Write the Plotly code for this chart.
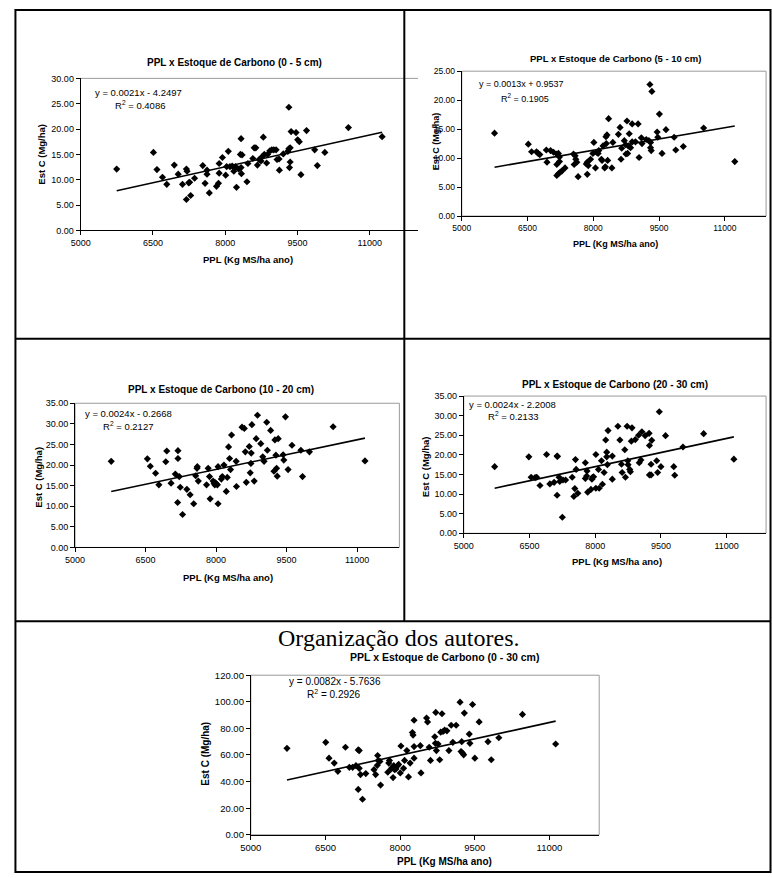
import numpy as np
import plotly.graph_objects as go

W, H = 772, 878

# ---------------- data ----------------
ppl_0_5 = [5747, 6510, 6583, 6698, 6787, 6943, 7024, 7113, 7194, 7208, 7242, 7262, 7194, 7283, 7364,
           7534, 7582, 7622, 7622, 7670, 7819, 7860, 7874, 7874, 7942, 8010, 8030, 8064, 8098, 8145,
           8179, 8213, 8234, 8281, 8315, 8329, 8336, 8329, 8350, 8451, 8471, 8573, 8601, 8635, 8668,
           8702, 8743, 8770, 8791, 8811, 8859, 8879, 8927, 8967, 9008, 9056, 9076, 9117, 9124, 9205,
           9300, 9321, 9321, 9348, 9348, 9334, 9368, 9470, 9504, 9538, 9572, 9688, 9857, 9912, 10068,
           10557, 11257]
est_0_5 = [12.1, 15.4, 12.0, 10.5, 9.1, 12.9, 11.1, 9.1, 12.1, 11.7, 9.4, 9.5, 6.1, 6.9, 10.3,
           12.8, 9.3, 11.1, 11.9, 7.4, 8.7, 9.3, 11.3, 13.2, 14.4, 10.9, 12.6, 15.6, 12.6, 12.7,
           11.7, 12.6, 8.5, 12.1, 15.0, 18.1, 11.2, 12.4, 14.9, 9.6, 13.2, 14.2, 16.3, 16.3, 12.9,
           14.0, 13.7, 14.6, 18.4, 15.0, 13.3, 15.0, 15.7, 15.9, 15.9, 15.9, 14.0, 14.1, 11.9, 15.1,
           15.6, 16.1, 24.3, 16.3, 13.5, 12.4, 19.5, 19.3, 17.9, 17.5, 11.0, 19.7, 15.9, 12.8, 15.4,
           20.3, 18.5]

ppl_5_10 = [5747, 6517, 6592, 6704, 6741, 6779, 6928, 6943, 7025, 7092, 7167, 7204, 7227, 7167, 7227,
            7167, 7204, 7249, 7287, 7354, 7548, 7585, 7563, 7600, 7623, 7653, 7840, 7862, 7862, 7885,
            7937, 7990, 8012, 8049, 8072, 8109, 8124, 8184, 8199, 8221, 8259, 8274, 8296, 8288, 8311,
            8326, 8348, 8423, 8445, 8572, 8610, 8632, 8647, 8707, 8737, 8744, 8767, 8782, 8797, 8819,
            8849, 8886, 8886, 8961, 9021, 9043, 9095, 9110, 9207, 9267, 9290, 9305, 9305, 9320, 9335,
            9455, 9470, 9507, 9567, 9657, 9843, 9880, 10052, 10516, 11226]
est_5_10 = [14.3, 12.4, 11.1, 11.1, 10.8, 10.6, 11.4, 9.3, 11.3, 11.0, 10.7, 10.8, 10.2, 8.9, 9.4,
            7.0, 7.3, 7.6, 7.8, 8.3, 10.7, 10.4, 8.9, 9.8, 9.3, 6.8, 9.0, 9.3, 7.2, 8.7,
            9.8, 10.8, 12.7, 8.3, 11.0, 10.8, 11.3, 9.8, 9.6, 12.1, 8.3, 8.5, 12.5, 13.7, 14.0,
            9.6, 16.8, 8.3, 12.7, 14.1, 15.3, 9.8, 11.7, 13.0, 12.3, 10.7, 16.4, 10.8, 12.1, 14.2,
            11.8, 15.9, 12.8, 12.8, 15.9, 10.1, 13.5, 12.5, 13.2, 13.0, 22.7, 12.7, 11.8, 11.3, 21.5,
            14.5, 13.6, 17.6, 10.8, 14.9, 13.6, 11.4, 12.0, 15.2, 9.4]

ppl_10_20 = [5769, 6538, 6601, 6713, 6783, 6930, 6951, 7042, 7133, 7189, 7189, 7182, 7217, 7238, 7287,
             7378, 7448, 7524, 7566, 7594, 7601, 7622, 7797, 7832, 7860, 7874, 7937, 7958, 7972, 7986,
             8007, 8028, 8042, 8042, 8112, 8133, 8168, 8217, 8238, 8266, 8287, 8308, 8329, 8427, 8434,
             8552, 8601, 8622, 8643, 8706, 8727, 8741, 8748, 8762, 8811, 8853, 8881, 8951, 8993, 9021,
             9077, 9091, 9161, 9231, 9252, 9273, 9287, 9301, 9322, 9427, 9441, 9476, 9532, 9615, 9804,
             9839, 9986, 10490, 11168]
est_10_20 = [20.9, 21.5, 19.7, 18.0, 15.2, 20.8, 23.4, 15.6, 17.8, 23.5, 21.6, 10.9, 17.2, 14.6, 8.0,
             14.1, 12.8, 10.6, 17.4, 19.2, 19.6, 16.1, 15.2, 19.2, 17.2, 11.8, 16.1, 15.6, 15.2, 15.7,
             15.4, 15.2, 19.6, 10.6, 16.6, 17.2, 20.0, 13.6, 17.0, 24.4, 21.6, 18.9, 27.3, 20.9, 14.8,
             29.2, 28.9, 23.2, 15.8, 24.5, 18.1, 20.4, 22.9, 29.8, 16.1, 26.4, 32.1, 25.2, 22.0, 20.9,
             30.4, 23.6, 28.4, 18.5, 26.1, 22.4, 19.2, 17.3, 26.4, 22.5, 21.2, 31.7, 18.9, 24.8, 23.6,
             17.2, 23.2, 29.3, 21.0]

ppl_20_30 = [5705, 6485, 6538, 6628, 6665, 6740, 6890, 6965, 7063, 7130, 7138, 7130, 7175, 7190, 7250,
             7265, 7325, 7475, 7513, 7535, 7550, 7565, 7603, 7775, 7775, 7805, 7813, 7828, 7903, 7925,
             7940, 7963, 8015, 8015, 8075, 8090, 8143, 8165, 8203, 8240, 8263, 8263, 8278, 8293, 8390,
             8390, 8518, 8563, 8600, 8615, 8675, 8690, 8728, 8743, 8750, 8788, 8803, 8825, 8840, 8915,
             8990, 9005, 9043, 9065, 9140, 9230, 9238, 9238, 9275, 9275, 9290, 9403, 9425, 9463, 9500,
             9605, 9793, 9815, 10003, 10475, 11165]
est_20_30 = [17.0, 19.5, 14.3, 14.2, 14.3, 12.2, 20.1, 12.6, 13.0, 19.7, 19.6, 9.7, 14.3, 13.2, 4.1,
             13.6, 13.6, 14.3, 9.4, 11.4, 18.8, 16.3, 10.2, 18.0, 14.0, 14.6, 15.9, 10.5, 11.2, 13.8,
             14.3, 14.4, 20.1, 11.5, 16.3, 11.5, 18.5, 12.5, 15.5, 23.8, 19.5, 20.7, 17.5, 26.2, 13.8,
             19.7, 27.3, 23.8, 17.6, 15.5, 21.3, 14.3, 27.3, 18.5, 17.5, 16.3, 15.7, 23.5, 26.9, 23.9,
             25.0, 18.0, 18.7, 25.9, 24.9, 25.5, 22.4, 14.9, 14.9, 17.6, 23.7, 18.5, 15.5, 31.0, 17.0,
             24.9, 17.0, 14.8, 22.0, 25.4, 18.9]

ppl_0_30 = [5726, 6505, 6571, 6676, 6749, 6901, 6980, 7046, 7112, 7158, 7178, 7158, 7178, 7204, 7244,
            7310, 7475, 7508, 7548, 7561, 7541, 7594, 7607, 7752, 7772, 7785, 7818, 7838, 7858, 7871,
            7891, 7917, 7950, 7970, 8003, 8016, 8069, 8089, 8135, 8168, 8201, 8247, 8260, 8280, 8280,
            8280, 8406, 8419, 8531, 8551, 8584, 8610, 8696, 8709, 8716, 8729, 8762, 8795, 8815, 8841,
            8861, 8894, 8940, 8980, 9026, 9059, 9125, 9204, 9224, 9237, 9257, 9277, 9290, 9389, 9402,
            9455, 9501, 9587, 9765, 9831, 9983, 10458, 11125]
est_0_30 = [65.0, 69.5, 57.6, 53.9, 47.7, 65.8, 50.7, 50.7, 52.0, 63.8, 63.3, 34.1, 50.0, 45.3, 26.7,
            46.0, 49.0, 45.3, 59.6, 55.9, 52.2, 55.2, 37.4, 47.0, 53.9, 55.9, 49.5, 50.5, 43.0, 52.0,
            49.0, 49.5, 52.0, 52.9, 46.5, 66.8, 50.0, 55.9, 63.3, 43.5, 53.9, 76.9, 75.0, 66.3, 86.1,
            57.6, 67.0, 46.5, 87.8, 84.9, 65.8, 55.9, 73.7, 68.8, 92.0, 63.3, 68.3, 56.4, 77.2, 91.0,
            77.7, 78.7, 78.2, 63.3, 82.4, 69.5, 82.4, 99.7, 62.6, 70.0, 61.4, 60.1, 91.5, 75.7, 68.8,
            98.0, 57.6, 84.9, 70.0, 56.4, 73.0, 90.5, 68.3]

depth_labels = ["0 - 5 cm", "5 - 10 cm", "10 - 20 cm", "20 - 30 cm", "0 - 30 cm"]
slopes = [0.0021, 0.0013, 0.0024, 0.0024, 0.0082]
intercepts = [-4.2497, 0.9537, -0.2668, -2.2008, -5.7636]
equation_texts = ["y = 0.0021x - 4.2497", "y = 0.0013x + 0.9537", "y = 0.0024x - 0.2668",
                  "y = 0.0024x - 2.2008", "y = 0.0082x - 5.7636"]
r2_texts = ["0.4086", "0.1905", "0.2127", "0.2133", "0.2926"]
y_max = [30, 25, 35, 35, 120]
y_step = [5, 5, 5, 5, 20]
x_ticks = [5000, 6500, 8000, 9500, 11000]
caption = "Organização dos autores."
x_title = "PPL (Kg MS/ha ano)"
y_title = "Est C (Mg/ha)"

xs_all = [ppl_0_5, ppl_5_10, ppl_10_20, ppl_20_30, ppl_0_30]
ys_all = [est_0_5, est_5_10, est_10_20, est_20_30, est_0_30]

# ---------------- layout geometry (pixels) ----------------
PANELS = [
    dict(box=(70.7, 412.8, 73.3, 227.3), xend=12000, border="top",
         title=(227, 57), ytitle=(31, 150), xtitle=(240, 257), eq=(83, 88), r2=(103, 100),
         fs=9, tfs=10),
    dict(box=(457.3, 766, 66, 212.7), xend=11940, border="box",
         title=(613, 53), ytitle=(431, 137), xtitle=(613, 241), eq=(473, 79), r2=(495, 93),
         fs=8.5, tfs=9.5),
    dict(box=(65, 394, 402.3, 548.3), xend=11900, border="box",
         title=(213, 388), ytitle=(27, 477), xtitle=(220, 579), eq=(73, 413), r2=(91, 425),
         fs=9, tfs=10),
    dict(box=(459.3, 766, 395, 534), xend=11900, border="box",
         title=(613, 383), ytitle=(420, 467), xtitle=(615, 563), eq=(463, 404), r2=(482, 415),
         fs=9, tfs=10),
    dict(box=(243.3, 596.7, 677.7, 839.3), xend=12000, border="box",
         title=(440, 659), ytitle=(197, 757), xtitle=(440, 866), eq=(280, 684), r2=(298, 697),
         fs=9.5, tfs=10.5),
]

FONT = "Liberation Sans, Arial, sans-serif"


def fx(px):
    return px / W


def fy(py):
    return 1 - py / H


fig = go.Figure()
annotations = []
shapes = []
layout_axes = {}

for i, (p, xs, ys) in enumerate(zip(PANELS, xs_all, ys_all)):
    n = i + 1
    xa = "x" if n == 1 else f"x{n}"
    ya = "y" if n == 1 else f"y{n}"
    xkey = "xaxis" if n == 1 else f"xaxis{n}"
    ykey = "yaxis" if n == 1 else f"yaxis{n}"
    l, r, t, b = p["box"]

    fig.add_trace(go.Scatter(x=xs, y=ys, mode="markers", xaxis=xa, yaxis=ya,
                             marker=dict(symbol="diamond", size=5.5, color="black",
                                         line=dict(width=0)),
                             showlegend=False, hoverinfo="skip"))
    xarr = np.array(xs, dtype=float)
    tx = np.array([xarr.min(), xarr.max()])
    ty = slopes[i] * tx + intercepts[i]
    fig.add_trace(go.Scatter(x=tx, y=ty, mode="lines", xaxis=xa, yaxis=ya,
                             line=dict(color="black", width=1.6),
                             showlegend=False, hoverinfo="skip"))

    tickfont = dict(family=FONT, size=p["fs"], color="black")
    layout_axes[xkey] = dict(domain=[fx(l), fx(r)], anchor=ya, range=[5000, p["xend"]],
                             tickmode="array", tickvals=x_ticks, ticktext=[str(v) for v in x_ticks],
                             ticks="outside", ticklen=4, tickcolor="black", tickwidth=1,
                             showline=True, linecolor="black", linewidth=1,
                             showgrid=False, zeroline=False, tickfont=tickfont, fixedrange=True)
    layout_axes[ykey] = dict(domain=[fy(b), fy(t)], anchor=xa, range=[0, y_max[i]],
                             tick0=0, dtick=y_step[i], tickformat=".2f",
                             ticks="outside", ticklen=4, tickcolor="black", tickwidth=1,
                             showline=True, linecolor="black", linewidth=1,
                             showgrid=False, zeroline=False, tickfont=tickfont, fixedrange=True)

    if p["border"] == "box":
        shapes.append(dict(type="rect", xref="paper", yref="paper",
                           x0=fx(l), x1=fx(r), y0=fy(b), y1=fy(t),
                           line=dict(color="#9a9a9a", width=1), layer="below"))
    else:
        shapes.append(dict(type="line", xref="paper", yref="paper",
                           x0=fx(l), x1=fx(r), y0=fy(t), y1=fy(t),
                           line=dict(color="#9a9a9a", width=1), layer="below"))

    tf = p["tfs"]
    annotations.append(dict(text=f"<b>PPL x Estoque de Carbono ({depth_labels[i]})</b>",
                            x=fx(p["title"][0]), y=fy(p["title"][1]), xref="paper", yref="paper",
                            xanchor="center", yanchor="middle", showarrow=False,
                            font=dict(family=FONT, size=tf, color="black")))
    annotations.append(dict(text=f"<b>{y_title}</b>", textangle=-90,
                            x=fx(p["ytitle"][0]), y=fy(p["ytitle"][1]), xref="paper", yref="paper",
                            xanchor="center", yanchor="middle", showarrow=False,
                            font=dict(family=FONT, size=tf - 0.5, color="black")))
    annotations.append(dict(text=f"<b>{x_title}</b>",
                            x=fx(p["xtitle"][0]), y=fy(p["xtitle"][1]), xref="paper", yref="paper",
                            xanchor="center", yanchor="middle", showarrow=False,
                            font=dict(family=FONT, size=tf - 0.5, color="black")))
    annotations.append(dict(text=equation_texts[i],
                            x=fx(p["eq"][0]), y=fy(p["eq"][1]), xref="paper", yref="paper",
                            xanchor="left", yanchor="middle", showarrow=False,
                            font=dict(family=FONT, size=p["fs"] + 0.5, color="black")))
    annotations.append(dict(text=f"R<sup>2</sup> = {r2_texts[i]}",
                            x=fx(p["r2"][0]), y=fy(p["r2"][1]), xref="paper", yref="paper",
                            xanchor="left", yanchor="middle", showarrow=False,
                            font=dict(family=FONT, size=p["fs"] + 0.5, color="black")))

annotations.append(dict(text=caption, x=fx(393), y=fy(640), xref="paper", yref="paper",
                        xanchor="center", yanchor="middle", showarrow=False,
                        font=dict(family="Liberation Serif, Times New Roman, serif", size=24,
                                  color="black")))


def hline(y, x0, x1):
    shapes.append(dict(type="line", xref="paper", yref="paper", x0=fx(x0), x1=fx(x1),
                       y0=fy(y), y1=fy(y), line=dict(color="black", width=2), layer="above"))


def vline(x, y0, y1):
    shapes.append(dict(type="line", xref="paper", yref="paper", x0=fx(x), x1=fx(x),
                       y0=fy(y0), y1=fy(y1), line=dict(color="black", width=2), layer="above"))


hline(4, 4, 771)
hline(337, 4, 771)
hline(623, 4, 771)
hline(877, 4, 771)
vline(4.5, 3, 878)
vline(770.5, 3, 878)
vline(399, 3, 623)

fig.update_layout(width=W, height=H, margin=dict(l=0, r=0, t=0, b=0),
                  paper_bgcolor="white", plot_bgcolor="rgba(0,0,0,0)",
                  showlegend=False, hovermode=False,
                  annotations=annotations, shapes=shapes, **layout_axes)

fig.write_html("out.html", config={"displayModeBar": False},
               post_script="document.body.style.margin='0px';"
                           "document.body.style.padding='0px';"
                           "document.body.style.overflow='hidden';")
